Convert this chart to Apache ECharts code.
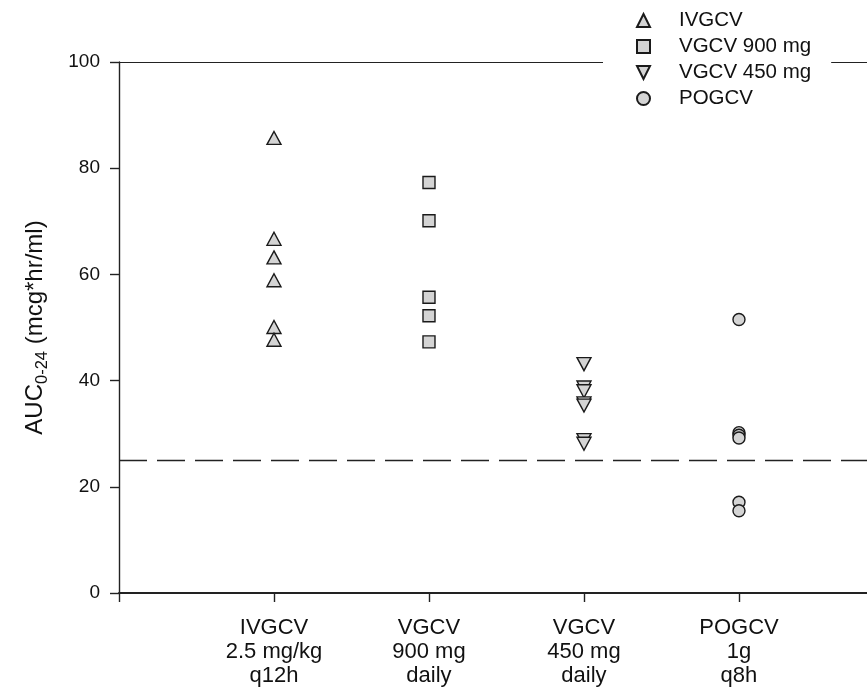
<!DOCTYPE html>
<html><head><meta charset="utf-8">
<script src="https://cdn.jsdelivr.net/npm/echarts@6/dist/echarts.min.js"></script>
<style>html,body{margin:0;padding:0;background:#fff}#c{width:867px;height:694px}</style>
</head><body><div id="c"></div>
<script>
const groupLabels = ['IVGCV\n2.5 mg/kg\nq12h', 'VGCV\n900 mg\ndaily', 'VGCV\n450 mg\ndaily', 'POGCV\n1g\nq8h'];
const seriesNames = ['IVGCV', 'VGCV 900 mg', 'VGCV 450 mg', 'POGCV'];
const ivgcv = [85.7, 66.7, 63.2, 58.9, 50.1, 47.7];
const vgcv900 = [77.3, 70.1, 55.7, 52.2, 47.3];
const vgcv450 = [43.1, 38.7, 38.0, 35.7, 35.3, 28.8, 28.1];
const pogcv = [51.5, 30.2, 29.7, 29.2, 17.1, 15.5];
const yTicks = [0, 20, 40, 60, 80, 100];
const xTicks = [0, 1, 2, 3, 4];
const threshold = 25;

const groups = [ivgcv, vgcv900, vgcv450, pogcv];
const symbols = ['triangle', 'rect', 'path://M0,0 L10,0 L5,10 Z', 'circle'];
const sizes = [[14, 13], [12, 12], [14, 13], [12, 12]];
const font = 'Liberation Sans, Arial, Helvetica, sans-serif';
const xMax = 4.826;

const series = groups.map((vals, i) => ({
  name: seriesNames[i],
  type: 'scatter',
  xAxisIndex: 0,
  symbol: symbols[i],
  symbolSize: sizes[i],
  data: vals.map(v => [i + 1, v]),
  itemStyle: {color: '#d4d4d4', borderColor: '#1a1a1a', borderWidth: 1.4, opacity: 1},
  z: 3
}));
series[0].markLine = {
  silent: true, symbol: 'none', animation: false,
  label: {show: false},
  lineStyle: {color: '#222', width: 1.4, type: [28, 10]},
  data: [{yAxis: threshold}]
};

const chart = echarts.init(document.getElementById('c'), null, {renderer: 'canvas'});
chart.setOption({
  animation: false,
  backgroundColor: '#fff',
  grid: {left: 119, top: 62, bottom: 101, right: 0, containLabel: false},
  legend: {
    orient: 'vertical', left: 603, top: 5,
    padding: [5, 20, 5, 33],
    backgroundColor: '#fff',
    itemWidth: 13, itemHeight: 13, itemGap: 5,
    textStyle: {fontFamily: font, fontSize: 20.5, color: '#111', lineHeight: 20, padding: [0, 0, 0, 24]},
    data: seriesNames, z: 10
  },
  xAxis: [{
    type: 'value', position: 'bottom', min: 0, max: xMax, interval: 1,
    splitLine: {show: false},
    axisLine: {show: true, onZero: false, lineStyle: {color: '#222', width: 1.8}},
    axisTick: {show: true, length: 9, customValues: xTicks, lineStyle: {color: '#222', width: 1.4}},
    axisLabel: {
      show: true, margin: 23, fontFamily: font, fontSize: 22, lineHeight: 24, color: '#111', align: 'center',
      customValues: [1, 2, 3, 4],
      formatter: v => (v >= 1 && v <= groupLabels.length) ? groupLabels[Math.round(v) - 1] : ''
    }
  }, {
    type: 'value', position: 'top', min: 0, max: xMax,
    splitLine: {show: false},
    axisLine: {show: true, onZero: false, lineStyle: {color: '#222', width: 1}},
    axisTick: {show: false}, axisLabel: {show: false}
  }],
  yAxis: {
    type: 'value', min: 0, max: 100, interval: 20,
    splitLine: {show: false},
    axisLine: {show: true, onZero: false, lineStyle: {color: '#222', width: 1.4}},
    axisTick: {show: true, length: 9, lineStyle: {color: '#222', width: 1.4}},
    axisLabel: {margin: 19, fontFamily: font, fontSize: 19, color: '#111',
      formatter: v => yTicks.includes(v) ? String(v) : ''},
    name: '{a|AUC}{s|0-24}{a| (mcg*hr/ml)}',
    nameLocation: 'middle', nameRotate: 90, nameGap: 72,
    nameTextStyle: {
      fontFamily: font, color: '#111',
      rich: {
        a: {fontFamily: font, fontSize: 24, color: '#111', lineHeight: 28, verticalAlign: 'bottom'},
        s: {fontFamily: font, fontSize: 16.5, color: '#111', lineHeight: 14, verticalAlign: 'bottom', padding: [0, 0, -4, 0]}
      }
    }
  },
  series: series
});
</script></body></html>
